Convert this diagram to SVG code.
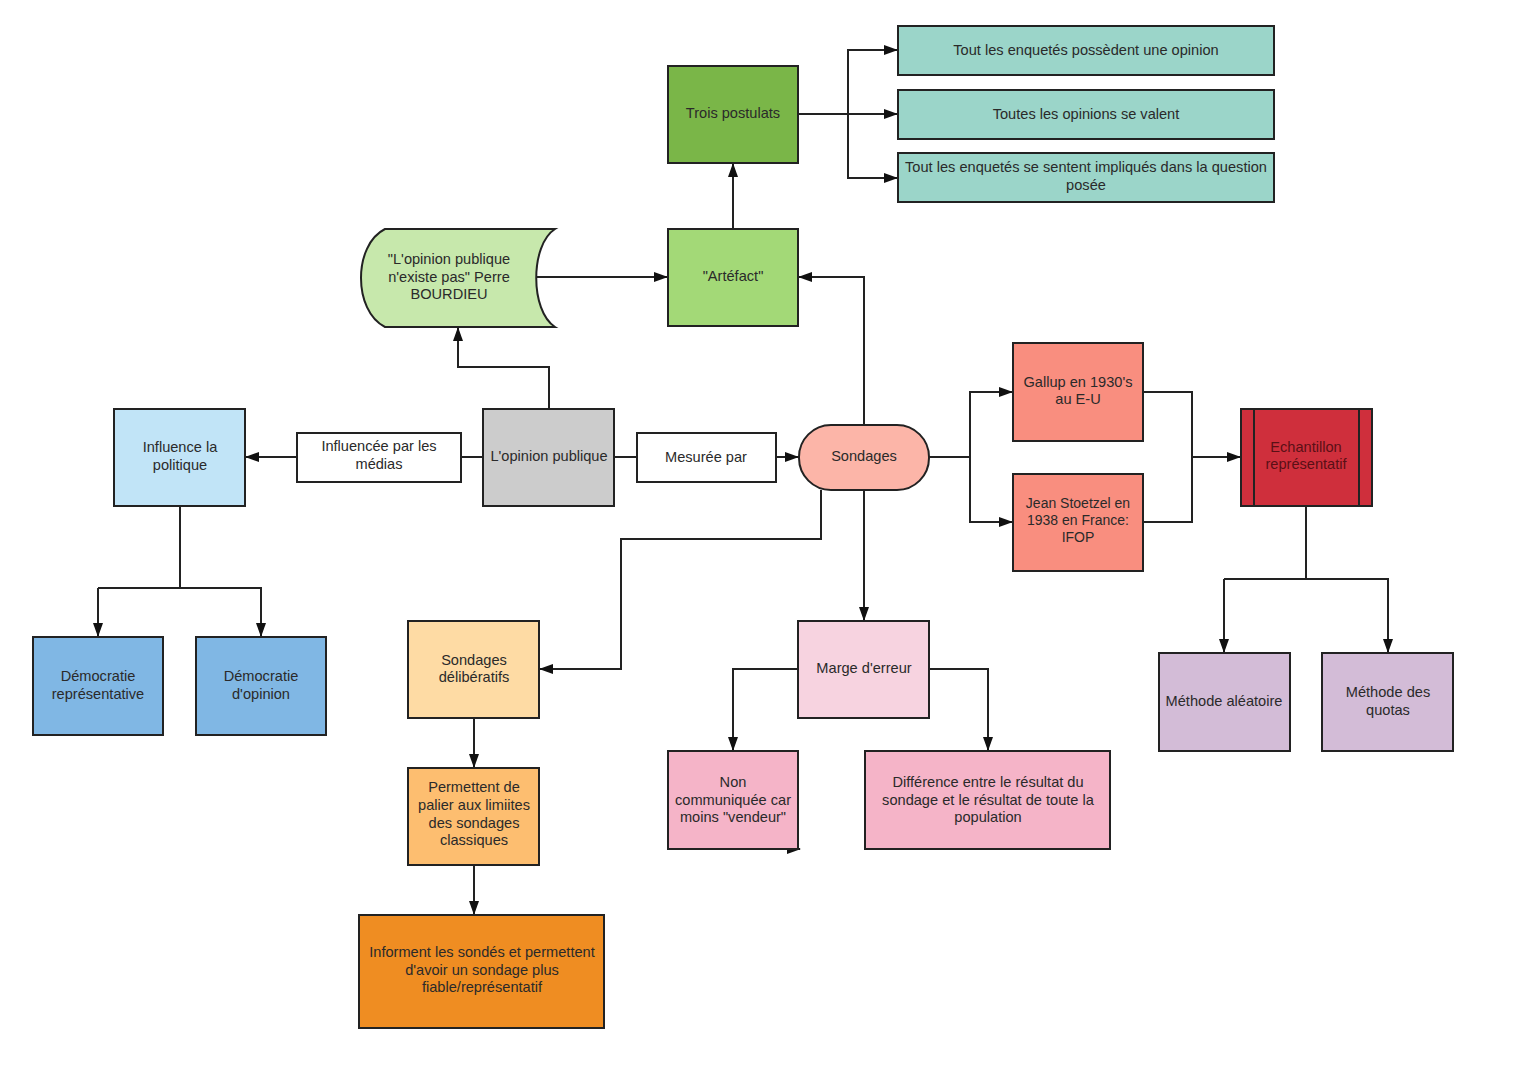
<svg xmlns="http://www.w3.org/2000/svg" width="1526" height="1080" viewBox="0 0 1526 1080">
<defs>
<marker id="ah" markerUnits="userSpaceOnUse" markerWidth="14" markerHeight="12" refX="13" refY="6" orient="auto">
<path d="M0,1 L14,6 L0,11 Z" fill="#111"/>
</marker>
<style>
.n{stroke:#222;stroke-width:2}
.t{font-family:"Liberation Sans",Arial,sans-serif;font-size:14.6px;fill:#2a2a2a;text-anchor:middle}
.c path{fill:none;stroke:#222;stroke-width:2}
.a{marker-end:url(#ah)}
</style>
</defs>
<rect width="1526" height="1080" fill="#fff"/>

<g class="c" id="connectors">
<path class="a" d="M798,114 H848 V50 H897"/>
<path class="a" d="M848,114 H897"/>
<path class="a" d="M848,114 V178 H897"/>
<path class="a" d="M733,229 V164"/>
<path class="a" d="M537,277 H667"/>
<path class="a" d="M864,425 V277 H799"/>
<path class="a" d="M549,409 V367 H458 V328"/>
<path d="M483,457 H461"/>
<path class="a" d="M297,457 H246"/>
<path d="M614,457 H637"/>
<path class="a" d="M776,457 H798"/>
<path d="M929,457 H970"/>
<path class="a" d="M970,457 V392 H1012"/>
<path class="a" d="M970,457 V522 H1012"/>
<path d="M1143,392 H1192 V522 H1143"/>
<path class="a" d="M1192,457 H1240"/>
<path d="M1306,506 V579 H1224"/>
<path class="a" d="M1224,579 V652"/>
<path class="a" d="M1306,579 H1388 V652"/>
<path d="M180,506 V588 H98"/>
<path class="a" d="M98,588 V636"/>
<path class="a" d="M180,588 H261 V636"/>
<path class="a" d="M821,490 V539 H621 V669 H540"/>
<path class="a" d="M864,490 V620"/>
<path class="a" d="M798,669 H733 V750"/>
<path class="a" d="M929,669 H988 V750"/>
<path class="a" d="M474,718 V767"/>
<path class="a" d="M474,865 V914"/>
<path class="a" d="M784,849 H800"/>
</g>

<g id="trois-postulats"><rect class="n" x="668" y="66" width="130" height="97" fill="#7ab648"/><text class="t" x="733" y="118">Trois postulats</text></g>
<g id="postulat1"><rect class="n" x="898" y="26" width="376" height="49" fill="#9bd5c9"/><text class="t" x="1086" y="55">Tout les enquetés possèdent une opinion</text></g>
<g id="postulat2"><rect class="n" x="898" y="90" width="376" height="49" fill="#9bd5c9"/><text class="t" x="1086" y="119">Toutes les opinions se valent</text></g>
<g id="postulat3"><rect class="n" x="898" y="153" width="376" height="49" fill="#9bd5c9"/><text class="t" x="1086" y="172">Tout les enquetés se sentent impliqués dans la question</text><text class="t" x="1086" y="190">posée</text></g>

<g id="bourdieu"><path class="n" d="M385,229 H555 C530,245 530,311 555,327 H385 C353,311 353,245 385,229 Z" fill="#c7e8ac"/><text class="t" x="449" y="264">"L'opinion publique</text><text class="t" x="449" y="282">n'existe pas" Perre</text><text class="t" x="449" y="299">BOURDIEU</text></g>
<g id="artefact"><rect class="n" x="668" y="229" width="130" height="97" fill="#a3d977"/><text class="t" x="733" y="281">"Artéfact"</text></g>

<g id="influence-politique"><rect class="n" x="114" y="409" width="131" height="97" fill="#c1e4f7"/><text class="t" x="180" y="452">Influence la</text><text class="t" x="180" y="470">politique</text></g>
<g id="influencee-medias"><rect class="n" x="297" y="433" width="164" height="49" fill="#fff"/><text class="t" x="379" y="451">Influencée par les</text><text class="t" x="379" y="469">médias</text></g>
<g id="opinion-publique"><rect class="n" x="483" y="409" width="131" height="97" fill="#cccccc"/><text class="t" x="549" y="461">L'opinion publique</text></g>
<g id="mesuree-par"><rect class="n" x="637" y="433" width="139" height="49" fill="#fff"/><text class="t" x="706" y="462">Mesurée par</text></g>
<g id="sondages"><rect class="n" x="799" y="425" width="130" height="65" rx="32" ry="32" fill="#fcb5a8"/><text class="t" x="864" y="461">Sondages</text></g>

<g id="gallup"><rect class="n" x="1013" y="343" width="130" height="98" fill="#f98e7f"/><text class="t" x="1078" y="387">Gallup en 1930's</text><text class="t" x="1078" y="404">au E-U</text></g>
<g id="stoetzel"><rect class="n" x="1013" y="474" width="130" height="97" fill="#f98e7f"/><text class="t" x="1078" y="508" style="font-size:14px">Jean Stoetzel en</text><text class="t" x="1078" y="525" style="font-size:14px">1938 en France:</text><text class="t" x="1078" y="542" style="font-size:14px">IFOP</text></g>
<g id="echantillon"><rect class="n" x="1241" y="409" width="131" height="97" fill="#cf2f3c"/><line class="n" x1="1254" y1="409" x2="1254" y2="506"/><line class="n" x1="1359" y1="409" x2="1359" y2="506"/><text class="t" x="1306" y="452" style="fill:#5a1016">Echantillon</text><text class="t" x="1306" y="469" style="fill:#5a1016">représentatif</text></g>

<g id="democratie-representative"><rect class="n" x="33" y="637" width="130" height="98" fill="#80b7e4"/><text class="t" x="98" y="681">Démocratie</text><text class="t" x="98" y="699">représentative</text></g>
<g id="democratie-opinion"><rect class="n" x="196" y="637" width="130" height="98" fill="#80b7e4"/><text class="t" x="261" y="681">Démocratie</text><text class="t" x="261" y="699">d'opinion</text></g>

<g id="sondages-deliberatifs"><rect class="n" x="408" y="621" width="131" height="97" fill="#fedba4"/><text class="t" x="474" y="665">Sondages</text><text class="t" x="474" y="682">délibératifs</text></g>
<g id="permettent"><rect class="n" x="408" y="768" width="131" height="97" fill="#fdbe70"/><text class="t" x="474" y="792">Permettent de</text><text class="t" x="474" y="810">palier aux limiites</text><text class="t" x="474" y="828">des sondages</text><text class="t" x="474" y="845">classiques</text></g>
<g id="informent"><rect class="n" x="359" y="915" width="245" height="113" fill="#ef8d22"/><text class="t" x="482" y="957">Informent les sondés et permettent</text><text class="t" x="482" y="975">d'avoir un sondage plus</text><text class="t" x="482" y="992">fiable/représentatif</text></g>

<g id="marge-erreur"><rect class="n" x="798" y="621" width="131" height="97" fill="#f7d3e0"/><text class="t" x="864" y="673">Marge d'erreur</text></g>
<g id="non-communiquee"><rect class="n" x="668" y="751" width="130" height="98" fill="#f5b4c8"/><text class="t" x="733" y="787">Non</text><text class="t" x="733" y="805">communiquée car</text><text class="t" x="733" y="822">moins "vendeur"</text></g>
<g id="difference"><rect class="n" x="865" y="751" width="245" height="98" fill="#f5b4c8"/><text class="t" x="988" y="787">Différence entre le résultat du</text><text class="t" x="988" y="805">sondage et le résultat de toute la</text><text class="t" x="988" y="822">population</text></g>

<g id="methode-aleatoire"><rect class="n" x="1159" y="653" width="131" height="98" fill="#d3bcd7"/><text class="t" x="1224" y="706">Méthode aléatoire</text></g>
<g id="methode-quotas"><rect class="n" x="1322" y="653" width="131" height="98" fill="#d3bcd7"/><text class="t" x="1388" y="697">Méthode des</text><text class="t" x="1388" y="715">quotas</text></g>
</svg>
